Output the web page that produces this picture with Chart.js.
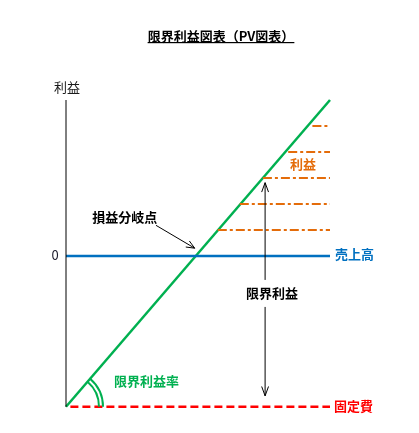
<!DOCTYPE html>
<html lang="ja">
<head>
<meta charset="utf-8">
<script src="https://cdn.jsdelivr.net/npm/chart.js@4/dist/chart.umd.min.js"></script>
<style>
  html, body { margin: 0; padding: 0; background: #fff; }
  #wrap { width: 419px; height: 433px; }
</style>
</head>
<body>
<div id="wrap"><canvas id="chart" width="419" height="433"></canvas></div>
<script>
// data (x = sales, y = profit, 0 = break-even level)
const seriesNames = ["売上高", "固定費", "限界利益", "利益"];
const salesX = [0, 12];
const salesY = [0, 0];
const fixedCostX = [0.2, 12];
const fixedCostY = [-5.8, -5.8];
const marginX = [0, 12];
const marginY = [-5.8, 6.0];
const profitY = [1, 2, 3, 4, 5];
const profitStartX = [6.9, 7.9, 8.95, 10.1, 11.2];
const profitEndX = 12;
const axisX = [0, 0];
const axisY = [-5.8, 6.0];
const yTickValues = [0];
const yTickLabels = ["0"];
const marginArrowX = 9.05;
const marginArrowY = [2.82, -5.38];
const bepArrowX = [4.09, 5.85];
const bepArrowY = [1.18, 0.3];

const chartDiv = document.getElementById("chart");
const JP = "'Noto Sans CJK JP', 'Noto Sans', sans-serif";

const pts = (xs, ys) => xs.map((x, i) => ({ x: x, y: ys[i] }));

const lineSet = (label, data, color, width, dash) => ({
  label: label,
  data: data,
  showLine: true,
  borderColor: color,
  backgroundColor: color,
  borderWidth: width,
  borderDash: dash || [],
  pointRadius: 0,
  pointHoverRadius: 0,
  fill: false,
  clip: false,
});

const datasets = [
  lineSet("axis", pts(axisX, axisY), "#000000", 1),
  lineSet(seriesNames[0], pts(salesX, salesY), "#0070C0", 2.5),
];
profitY.forEach((y, i) => {
  datasets.push(
    lineSet(seriesNames[3], pts([profitStartX[i], profitEndX], [y, y]), "#E46C0A", 2, [9, 3, 3, 3])
  );
});
datasets.push(lineSet(seriesNames[1], pts(fixedCostX, fixedCostY), "#FF0000", 2.5, [8, 4]));
datasets.push(lineSet(seriesNames[2], pts(marginX, marginY), "#00B050", 2.5));

// text placed in data units
const labels = [
  { text: "利益", x: 0.05, y: 6.51, color: "#1a1a1a", align: "center", bold: false },
  { text: yTickLabels[0], x: -0.5, y: yTickValues[0] + 0.04, color: "#1a1a2a", align: "center", bold: false },
  { text: "損益分岐点", x: 2.67, y: 1.51, color: "#000000", align: "center", bold: true },
  { text: "利益", x: 10.77, y: 3.54, color: "#E46C0A", align: "center", bold: true },
  { text: "売上高", x: 12.23, y: 0.08, color: "#0070C0", align: "left", bold: true },
  { text: "限界利益率", x: 2.18, y: -4.8, color: "#00B050", align: "left", bold: true },
  { text: "固定費", x: 12.18, y: -5.77, color: "#FF0000", align: "left", bold: true },
];

const headLines = (ctx, tx, ty, ang, len, spread) => {
  ctx.beginPath();
  ctx.moveTo(tx - len * Math.cos(ang - spread), ty - len * Math.sin(ang - spread));
  ctx.lineTo(tx, ty);
  ctx.lineTo(tx - len * Math.cos(ang + spread), ty - len * Math.sin(ang + spread));
  ctx.stroke();
};

const decorations = {
  id: "decorations",
  afterDatasetsDraw(chart) {
    const { ctx, scales } = chart;
    const px = (v) => scales.x.getPixelForValue(v);
    const py = (v) => scales.y.getPixelForValue(v);
    ctx.save();

    // angle arcs for the contribution margin ratio
    const ox = px(marginX[0]);
    const oy = py(marginY[0]);
    const lineAng = Math.atan2(py(marginY[1]) - oy, px(marginX[1]) - ox);
    ctx.strokeStyle = "#00B050";
    ctx.lineWidth = 2;
    [33, 37].forEach((r) => {
      ctx.beginPath();
      ctx.arc(ox, oy, r, lineAng, 0);
      ctx.stroke();
    });

    // double arrow for marginal profit
    const ax = px(marginArrowX);
    const ay1 = py(marginArrowY[0]);
    const ay2 = py(marginArrowY[1]);
    ctx.strokeStyle = "#000000";
    ctx.lineWidth = 1;
    ctx.beginPath();
    ctx.moveTo(ax, ay1);
    ctx.lineTo(ax, ay2);
    ctx.stroke();
    headLines(ctx, ax, ay1, -Math.PI / 2, 10, 0.35);
    headLines(ctx, ax, ay2, Math.PI / 2, 10, 0.35);

    // break-even pointer
    const bx1 = px(bepArrowX[0]), by1 = py(bepArrowY[0]);
    const bx2 = px(bepArrowX[1]), by2 = py(bepArrowY[1]);
    ctx.beginPath();
    ctx.moveTo(bx1, by1);
    ctx.lineTo(bx2, by2);
    ctx.stroke();
    headLines(ctx, bx2, by2, Math.atan2(by2 - by1, bx2 - bx1), 9, 0.4);

    // middle label over the arrow
    ctx.font = "bold 13px " + JP;
    ctx.textBaseline = "middle";
    ctx.textAlign = "center";
    const mx = px(9.36), my = py(-1.42);
    const mw = ctx.measureText("限界利益").width;
    ctx.fillStyle = "#ffffff";
    ctx.fillRect(mx - mw / 2 - 2, my - 13, mw + 4, 27);
    ctx.fillStyle = "#000000";
    ctx.fillText("限界利益", mx, my);

    labels.forEach((l) => {
      ctx.font = (l.bold ? "bold " : "") + "13px " + JP;
      ctx.textAlign = l.align;
      ctx.fillStyle = l.color;
      ctx.fillText(l.text, px(l.x), py(l.y));
    });

    // title with underline
    const title = "限界利益図表（PV図表）";
    ctx.font = "bold 13px " + JP;
    ctx.textAlign = "center";
    ctx.fillStyle = "#000000";
    ctx.fillText(title, 221, 36);
    const tw = ctx.measureText(title).width;
    ctx.fillRect(221 - tw / 2, 42, tw, 1.2);

    ctx.restore();
  },
};

new Chart(chartDiv, {
  type: "scatter",
  data: { datasets: datasets },
  options: {
    responsive: false,
    animation: false,
    events: [],
    layout: { padding: { left: 66, right: 89, top: 87, bottom: 21 } },
    scales: {
      x: { type: "linear", min: 0, max: 12, display: false },
      y: { type: "linear", min: -6, max: 6.5, display: false },
    },
    plugins: {
      legend: { display: false },
      title: { display: false },
      tooltip: { enabled: false },
    },
  },
  plugins: [decorations],
});
</script>
</body>
</html>
